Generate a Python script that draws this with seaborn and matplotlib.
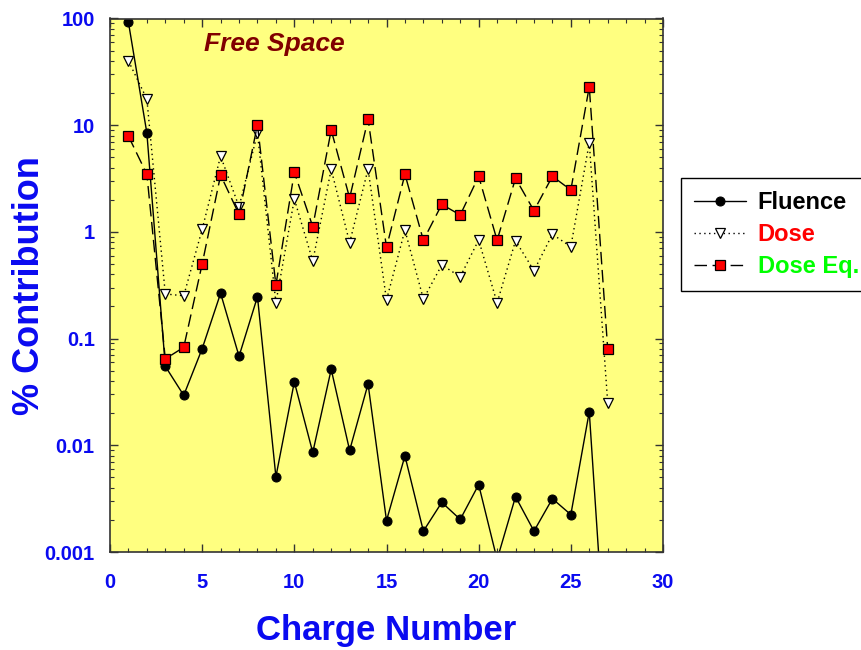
"""Percent contribution by charge number in free space: fluence, dose and dose equivalent."""
import numpy as np
import matplotlib
matplotlib.use("Agg")
import matplotlib.pyplot as plt
import seaborn as sns
from matplotlib.ticker import FixedLocator, MultipleLocator, LogLocator, NullFormatter

charge = list(range(1, 28))
fluence = [92, 8.45, 0.055, 0.0294, 0.0805, 0.266, 0.0683, 0.247, 0.00507, 0.0393,
           0.00857, 0.0515, 0.00896, 0.0376, 0.00197, 0.00796, 0.00157, 0.00292, 0.00202,
           0.00428, 0.00085, 0.0033, 0.00157, 0.00316, 0.00224, 0.0206, 0.00005]
dose = [40, 17.6, 0.262, 0.252, 1.057, 5.14, 1.72, 8.4, 0.217, 2.03,
        0.533, 3.86, 0.792, 3.89, 0.230, 1.04, 0.235, 0.49, 0.38,
        0.84, 0.216, 0.826, 0.433, 0.95, 0.727, 6.85, 0.0251]
dose_eq = [7.9, 3.47, 0.0645, 0.0829, 0.50, 3.41, 1.46, 10.1, 0.318, 3.62,
           1.12, 9.0, 2.08, 11.4, 0.717, 3.47, 0.834, 1.81, 1.44,
           3.32, 0.834, 3.18, 1.58, 3.32, 2.47, 22.9, 0.080]
series_labels = ["Fluence", "Dose", "Dose Eq."]
label_colors = ["black", "#FF0000", "#00FF00"]
y_ticks = [0.001, 0.01, 0.1, 1, 10, 100]
y_ticklabels = ["0.001", "0.01", "0.1", "1", "10", "100"]

sns.set_theme(style="ticks")
plt.rcParams["font.family"] = ["Liberation Sans", "DejaVu Sans"]
blue = "#0A0AF0"

fig = plt.figure(figsize=(8.62, 6.5), dpi=100)
ax = fig.add_axes([110/862, 1-552/650, (663-110)/862, (552-18.5)/650])
ax.set_facecolor("#FFFF80")
ax.set_yscale("log")

sns.lineplot(x=charge, y=fluence, ax=ax, color="black", lw=1.0, marker="o", ms=6.5,
             mfc="black", mec="black", label=series_labels[0])
sns.lineplot(x=charge, y=dose, ax=ax, color="black", lw=1.0, linestyle=(0, (1, 2.5)),
             marker="v", ms=7, mfc="white", mec="black", mew=0.9, label=series_labels[1])
sns.lineplot(x=charge, y=dose_eq, ax=ax, color="black", lw=1.0, linestyle=(0, (9, 4)),
             marker="s", ms=6.5, mfc="#FF0000", mec="black", mew=0.9, label=series_labels[2])

ax.set_xlim(0, 30)
ax.set_ylim(0.001, 100)
ax.xaxis.set_major_locator(MultipleLocator(5))
ax.xaxis.set_minor_locator(MultipleLocator(1))
ax.yaxis.set_major_locator(FixedLocator(y_ticks))
ax.set_yticklabels(y_ticklabels)
ax.yaxis.set_minor_locator(LogLocator(base=10, subs=np.arange(2, 10)))
ax.yaxis.set_minor_formatter(NullFormatter())
ax.tick_params(which="both", direction="in", top=True, right=True, color="#333333")
ax.tick_params(which="major", length=6, width=1)
ax.tick_params(which="minor", length=3, width=0.8)
ax.tick_params(axis="x", which="major", pad=15)
ax.tick_params(axis="y", which="major", pad=11)
for lab in ax.get_xticklabels() + ax.get_yticklabels():
    lab.set_fontsize(14.5)
    lab.set_fontweight("bold")
    lab.set_color(blue)
for sp in ax.spines.values():
    sp.set_color("#333333")
    sp.set_linewidth(1.2)

ax.set_xlabel("Charge Number", fontsize=25, fontweight="bold", color=blue, labelpad=16)
ax.set_ylabel("% Contribution", fontsize=26, fontweight="bold", color=blue, labelpad=-2)
ax.text(0.17, 0.952, "Free Space", transform=ax.transAxes, fontsize=19, fontweight="bold",
        fontstyle="italic", color="#800000", ha="left", va="center")

leg = ax.legend(loc="upper left", bbox_to_anchor=(681/862, 1-178/650), bbox_transform=fig.transFigure,
                frameon=True, fancybox=False, edgecolor="black", framealpha=1, fontsize=17,
                handlelength=2.2, labelspacing=0.38, borderpad=0.55, handletextpad=0.5,
                borderaxespad=0)
leg.get_frame().set_linewidth(1.0)
for txt, c in zip(leg.get_texts(), label_colors):
    txt.set_color(c)
    txt.set_fontweight("bold")

fig.savefig("out.png", dpi=100)
